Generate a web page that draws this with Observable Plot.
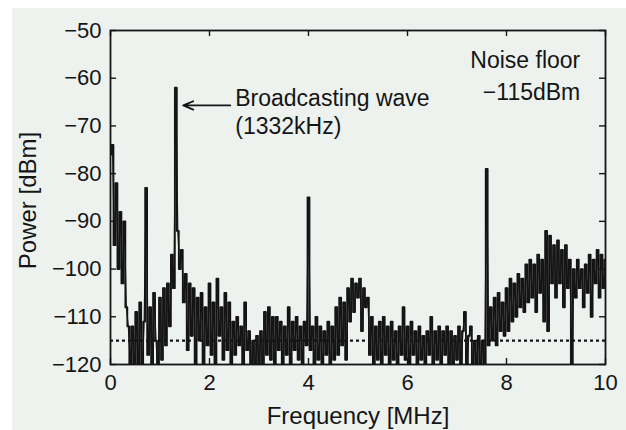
<!DOCTYPE html>
<html>
<head>
<meta charset="utf-8">
<script src="https://cdn.jsdelivr.net/npm/d3@7"></script>
<script src="https://cdn.jsdelivr.net/npm/@observablehq/plot@0.6"></script>
<style>
  html, body { margin: 0; padding: 0; background: #ffffff; }
  #chart svg { display: block; }
</style>
</head>
<body>
<div id="chart"></div>
<script>
// Sampled spectrum: one value every 0.04 MHz, grouped per MHz (dBm)
const freqStep = 0.04;
const power0 = [-76, -74, -95, -82, -100, -88, -103, -90, -108, -112, -120, -112, -122, -109, -121, -107, -122, -111, -83, -118, -108, -121, -105, -115, -122];
const power1 = [-106, -119, -104, -116, -103, -112, -97, -104, -62, -92, -100, -96, -107, -101, -117, -103, -114, -104, -121, -106, -115, -105, -122, -108, -116];
const power2 = [-103, -118, -107, -121, -102, -114, -108, -119, -105, -117, -107, -121, -111, -118, -110, -116, -112, -120, -107, -117, -113, -121, -115, -122, -114];
const power3 = [-120, -113, -121, -109, -118, -108, -119, -110, -121, -110, -117, -111, -120, -112, -118, -108, -121, -111, -117, -110, -119, -112, -120, -111, -116];
const power4 = [-85, -117, -112, -121, -110, -119, -112, -121, -113, -118, -111, -122, -112, -119, -108, -118, -106, -116, -107, -119, -104, -111, -102, -109, -103];
const power5 = [-106, -102, -113, -104, -108, -106, -118, -110, -121, -112, -119, -111, -121, -110, -118, -112, -120, -111, -119, -113, -121, -112, -118, -108, -119];
const power6 = [-112, -120, -111, -118, -113, -121, -112, -119, -114, -121, -113, -118, -110, -120, -113, -119, -112, -121, -113, -118, -112, -120, -113, -121, -114];
const power7 = [-119, -112, -121, -113, -109, -120, -114, -112, -121, -115, -120, -114, -121, -115, -120, -79, -116, -108, -115, -106, -116, -105, -113, -107, -114];
const power8 = [-104, -113, -102, -111, -103, -110, -101, -108, -102, -109, -99, -107, -98, -106, -99, -109, -97, -105, -98, -111, -92, -113, -93, -103, -95];
const power9 = [-106, -94, -103, -96, -108, -95, -104, -98, -121, -100, -106, -98, -104, -100, -108, -99, -105, -97, -110, -98, -103, -96, -106, -97, -104, -98];

const noiseFloor = -115;
const xTickValues = [0, 2, 4, 6, 8, 10];
const yTickValues = [-50, -60, -70, -80, -90, -100, -110, -120];

// Annotations
const arrowNote = [{x1: 2.42, y1: -65.7, x2: 1.47, y2: -65.7}];
const broadcastLabels = [
  {x: 2.52, y: -65.9, text: "Broadcasting wave"},
  {x: 2.52, y: -71.6, text: "(1332kHz)"}
];
const noiseLabels = [
  {x: 9.49, y: -57.9, text: "Noise floor"},
  {x: 9.49, y: -64.6, text: "\u2212115dBm"}
];

const powers = [...power0, ...power1, ...power2, ...power3, ...power4, ...power5, ...power6, ...power7, ...power8, ...power9];
const spectrum = powers.map((p, i) => ({f: +(i * freqStep).toFixed(2), p}));

const ink = "#151515";
const font = "'Liberation Sans', Arial, Helvetica, sans-serif";

const chart = Plot.plot({
  width: 626,
  height: 430,
  marginLeft: 110,
  marginRight: 21,
  marginTop: 30,
  marginBottom: 66,
  style: {
    fontFamily: font,
    fontSize: "22px",
    color: ink,
    background: "linear-gradient(to bottom, #ffffff 0 8px, transparent 8px), linear-gradient(to right, #ffffff 0 12px, #edf2ef 12px)"
  },
  x: {domain: [0, 10], ticks: xTickValues},
  y: {domain: [-120, -50], ticks: yTickValues},
  marks: [
    Plot.axisX({ticks: xTickValues, tickSize: 0, tickPadding: 10, label: null, tickFormat: d => String(d), fontSize: 22, fill: ink}),
    Plot.axisY({ticks: yTickValues, tickSize: 0, tickPadding: 9, label: null, fontSize: 22, fill: ink}),
    // inward ticks on all four sides
    Plot.ruleX(xTickValues, {x: d => d, y1: -120, y2: -118.75, stroke: ink, strokeWidth: 1.4}),
    Plot.ruleX(xTickValues, {x: d => d, y1: -50, y2: -51.25, stroke: ink, strokeWidth: 1.4}),
    Plot.ruleY(yTickValues, {y: d => d, x1: 0, x2: 0.12, stroke: ink, strokeWidth: 1.4}),
    Plot.ruleY(yTickValues, {y: d => d, x1: 10, x2: 9.88, stroke: ink, strokeWidth: 1.4}),
    // noise floor
    Plot.ruleY([noiseFloor], {stroke: ink, strokeWidth: 2.2, strokeDasharray: "3,3"}),
    // spectrum trace
    Plot.line(spectrum, {x: "f", y: "p", stroke: ink, strokeWidth: 1.8, curve: "step", clip: true}),
    Plot.line(spectrum, {x: "f", y: "p", stroke: ink, strokeWidth: 1.2, clip: true}),
    Plot.frame({stroke: ink, strokeWidth: 1.8}),
    // annotations
    Plot.arrow(arrowNote, {x1: "x1", y1: "y1", x2: "x2", y2: "y2", stroke: ink, strokeWidth: 1.8, headLength: 9, headAngle: 45}),
    Plot.text(broadcastLabels, {x: "x", y: "y", text: "text", textAnchor: "start", lineAnchor: "bottom", fontSize: 23, fill: ink, fontFamily: font}),
    Plot.text(noiseLabels, {x: "x", y: "y", text: "text", textAnchor: "end", lineAnchor: "bottom", fontSize: 23, fill: ink, fontFamily: font}),
    // axis titles
    Plot.text(["Frequency [MHz]"], {frameAnchor: "bottom", dy: 59, textAnchor: "middle", lineAnchor: "bottom", fontSize: 24, fill: ink, fontFamily: font}),
    Plot.text(["Power [dBm]"], {frameAnchor: "left", dx: -82, dy: 3, textAnchor: "middle", rotate: -90, lineAnchor: "middle", fontSize: 24, fill: ink, fontFamily: font})
  ]
});

document.getElementById("chart").appendChild(chart);
</script>
</body>
</html>
